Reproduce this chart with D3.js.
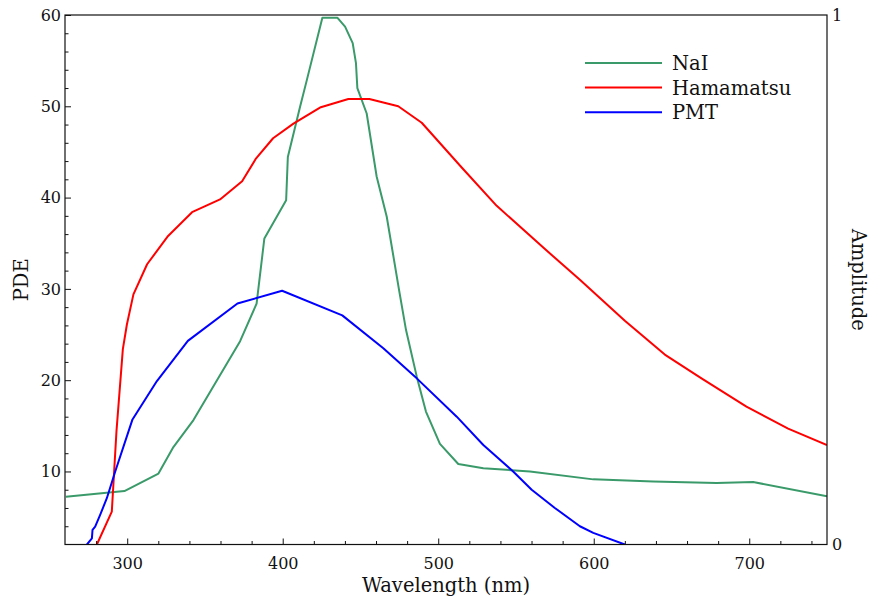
<!DOCTYPE html>
<html>
<head>
<meta charset="utf-8">
<script src="https://cdn.jsdelivr.net/npm/d3@7"></script>
<style>
  body { margin: 0; background: #fff; }
  text { font-family: 'DejaVu Serif', serif; fill: #111; }
</style>
</head>
<body>
<div id="chart"></div>
<script>
// NaI emission spectrum (right axis, amplitude)
const nmNaI = [260.6, 298.2, 320.1, 329.7, 342.6, 372.6, 383.2, 388.2, 402.2, 403.3, 411.2, 415.5, 425.5, 435.1, 440.1, 445.0, 447.1, 448.0, 454.0, 460.4, 466.9, 474.8, 479.3, 486.2, 492.1, 501.1, 512.9, 529.0, 559.0, 599.7, 638.2, 679.0, 702.5, 750];
const ampNaI = [0.090, 0.101, 0.134, 0.184, 0.235, 0.384, 0.455, 0.578, 0.650, 0.732, 0.827, 0.877, 0.995, 0.995, 0.978, 0.947, 0.909, 0.862, 0.814, 0.695, 0.619, 0.481, 0.405, 0.317, 0.251, 0.190, 0.152, 0.144, 0.138, 0.123, 0.119, 0.116, 0.118, 0.091];

// Hamamatsu PDE (left axis)
const nmHam = [280.5, 290.1, 293.1, 297.2, 299.8, 304.0, 312.8, 326.3, 341.7, 359.7, 373.9, 382.9, 393.8, 406.9, 424.5, 442.2, 455.7, 474.3, 489.4, 515.1, 537.6, 569.7, 591.1, 620.0, 645.7, 669.3, 698.2, 725.0, 750];
const pdeHam = [2.0, 5.6, 14.4, 23.4, 26.1, 29.4, 32.7, 35.8, 38.4, 39.8, 41.8, 44.3, 46.5, 48.1, 49.9, 50.8, 50.8, 50.0, 48.2, 43.3, 39.1, 34.2, 31.0, 26.5, 22.8, 20.2, 17.1, 14.7, 12.9];

// PMT PDE (left axis)
const nmPMT = [274.1, 277.3, 277.7, 279.4, 282.6, 286.9, 292.3, 303.4, 319.1, 339.0, 370.9, 399.6, 438.3, 464.7, 486.2, 511.9, 529.0, 548.2, 560.1, 575.0, 591.1, 599.7, 620.0];
const pdePMT = [2.0, 2.67, 3.6, 3.96, 5.24, 7.07, 10.0, 15.7, 19.9, 24.3, 28.4, 29.8, 27.1, 23.5, 20.2, 16.0, 12.9, 10.0, 8.0, 6.0, 4.0, 3.27, 2.0];

const xTicks = [300, 400, 500, 600, 700];
const yTicks = [10, 20, 30, 40, 50, 60];
const yRightTicks = [0, 1];

const series = [
  { name: 'NaI', color: '#3a9a6a', axis: 'right', x: nmNaI, y: ampNaI },
  { name: 'Hamamatsu', color: '#ff0000', axis: 'left', x: nmHam, y: pdeHam },
  { name: 'PMT', color: '#0000ff', axis: 'left', x: nmPMT, y: pdePMT },
];

const W = 869, H = 597;
const margin = { top: 15, right: 42, bottom: 52.5, left: 65 };
const width = W - margin.left - margin.right;
const height = H - margin.top - margin.bottom;

const svg = d3.select('#chart').append('svg')
  .attr('width', W).attr('height', H);

const g = svg.append('g')
  .attr('transform', `translate(${margin.left},${margin.top})`);

const x = d3.scaleLinear().domain([260, 750]).range([0, width]);
const y = d3.scaleLinear().domain([2, 60]).range([height, 0]);
const yR = d3.scaleLinear().domain([0, 1]).range([height, 0]);

// clip
g.append('clipPath').attr('id', 'clip')
  .append('rect').attr('width', width).attr('height', height);

// lines
series.forEach((s) => {
  const ys = s.axis === 'right' ? yR : y;
  const line = d3.line()
    .x((d, i) => x(s.x[i]))
    .y((d, i) => ys(s.y[i]));
  g.append('path')
    .datum(s.x)
    .attr('clip-path', 'url(#clip)')
    .attr('fill', 'none')
    .attr('stroke', s.color)
    .attr('stroke-width', 2)
    .attr('stroke-linejoin', 'round')
    .attr('d', line);
});

// bottom axis, ticks inside
const xMinor = d3.range(280, 750, 20).filter((v) => v % 100 !== 0);
g.append('g')
  .attr('transform', `translate(0,${height})`)
  .call(d3.axisBottom(x).tickValues(xMinor).tickSize(-3.5).tickFormat(''))
  .call((a) => a.select('.domain').remove());
g.append('g')
  .attr('transform', `translate(0,${height})`)
  .call(d3.axisBottom(x).tickValues(xTicks).tickSize(-6).tickPadding(13).tickFormat(d3.format('d')))
  .call((a) => a.select('.domain').remove())
  .selectAll('text').style('font-size', '16px');

// left axis, ticks inside
const yMinor = d3.range(4, 60, 2).filter((v) => v % 10 !== 0);
g.append('g')
  .call(d3.axisLeft(y).tickValues(yMinor).tickSize(-3.5).tickFormat(''))
  .call((a) => a.select('.domain').remove());
g.append('g')
  .call(d3.axisLeft(y).tickValues(yTicks).tickSize(-6).tickPadding(4).tickFormat(d3.format('d')))
  .call((a) => a.select('.domain').remove())
  .selectAll('text').style('font-size', '16px');

// right axis labels only
g.append('g')
  .attr('transform', `translate(${width},0)`)
  .call(d3.axisRight(yR).tickValues(yRightTicks).tickSize(0).tickPadding(5).tickFormat(d3.format('d')))
  .call((a) => a.select('.domain').remove())
  .selectAll('text').style('font-size', '16px');

g.selectAll('.tick line').attr('stroke', '#111');

// frame
g.append('rect')
  .attr('width', width).attr('height', height)
  .attr('fill', 'none').attr('stroke', '#111').attr('stroke-width', 1.2);

// axis titles
svg.append('text')
  .attr('x', margin.left + width / 2).attr('y', 592)
  .attr('text-anchor', 'middle')
  .style('font-size', '19.5px')
  .text('Wavelength (nm)');

svg.append('text')
  .attr('transform', `translate(28,${margin.top + height / 2}) rotate(-90)`)
  .attr('text-anchor', 'middle')
  .style('font-size', '19.5px')
  .text('PDE');

svg.append('text')
  .attr('transform', `translate(852,${margin.top + height / 2}) rotate(90)`)
  .attr('text-anchor', 'middle')
  .style('font-size', '19.5px')
  .text('Amplitude');

// legend
const legend = svg.append('g').attr('transform', 'translate(585,63)');
series.forEach((s, i) => {
  const row = legend.append('g').attr('transform', `translate(0,${i * 24.6})`);
  row.append('line')
    .attr('x1', 0).attr('x2', 77)
    .attr('stroke', s.color).attr('stroke-width', 2);
  row.append('text')
    .attr('x', 87).attr('y', 7)
    .style('font-size', '19.5px')
    .text(s.name);
});
</script>
</body>
</html>
